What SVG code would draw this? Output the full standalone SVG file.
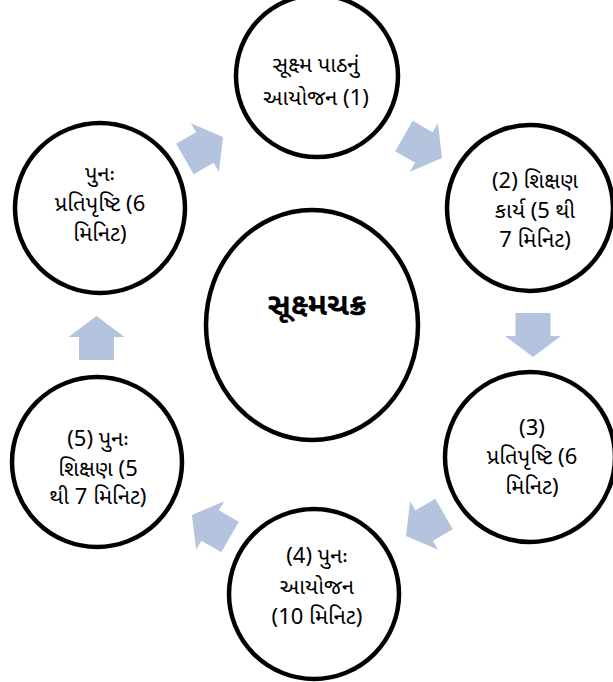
<svg xmlns="http://www.w3.org/2000/svg" width="613" height="682" viewBox="0 0 613 682">
<defs>
<style>
.c{fill:#fff;stroke:#000;stroke-width:4.5}
.a{fill:#b4c4de}
.t{font-family:"Noto Sans Gujarati","Noto Sans","Liberation Sans",sans-serif;font-size:22px;fill:#000;text-anchor:middle}
.b{font-size:31px;font-weight:bold}
</style>
<path id="arr" d="M-22,-17.5 H1 V-28 L22,0 L1,28 V17.5 H-22 Z"/>
</defs>
<rect width="613" height="682" fill="#fff"/>
<g id="connectors">
<use href="#arr" class="a" transform="translate(204,148) rotate(-30)"/>
<use href="#arr" class="a" transform="translate(423,147) rotate(30)"/>
<use href="#arr" class="a" transform="translate(533,335) rotate(90)"/>
<use href="#arr" class="a" transform="translate(425,525) rotate(150)"/>
<use href="#arr" class="a" transform="translate(211,526) rotate(210)"/>
<use href="#arr" class="a" transform="translate(96.5,338) rotate(-90)"/>
</g>
<g id="center">
<ellipse class="c" cx="312" cy="325" rx="106" ry="115"/>
<text class="t b" x="317" y="315">સૂક્ષ્મચક્ર</text>
</g>
<g id="n1">
<circle class="c" cx="317" cy="76" r="81"/>
<text class="t" x="316" y="72">સૂક્ષ્મ પાઠનું</text>
<text class="t" x="316" y="105">આયોજન (1)</text>
</g>
<g id="n2">
<circle class="c" cx="530" cy="208" r="83"/>
<text class="t" x="535" y="188">(2) શિક્ષણ</text>
<text class="t" x="535" y="218">કાર્ય (5 થી</text>
<text class="t" x="535" y="247">7 મિનિટ)</text>
</g>
<g id="n3">
<circle class="c" cx="530" cy="457" r="85"/>
<text class="t" x="532" y="435">(3)</text>
<text class="t" x="532" y="464">પ્રતિપૃષ્ટિ (6</text>
<text class="t" x="532" y="494">મિનિટ)</text>
</g>
<g id="n4">
<circle class="c" cx="314" cy="594" r="85"/>
<text class="t" x="317" y="563">(4) પુનઃ</text>
<text class="t" x="317" y="594">આયોજન</text>
<text class="t" x="317" y="624">(10 મિનિટ)</text>
</g>
<g id="n5">
<circle class="c" cx="97" cy="462" r="85"/>
<text class="t" x="98" y="446">(5) પુનઃ</text>
<text class="t" x="98" y="476">શિક્ષણ (5</text>
<text class="t" x="98" y="504">થી 7 મિનિટ)</text>
</g>
<g id="n6">
<circle class="c" cx="100" cy="208" r="85"/>
<text class="t" x="100" y="181">પુનઃ</text>
<text class="t" x="100" y="211">પ્રતિપૃષ્ટિ (6</text>
<text class="t" x="100" y="241">મિનિટ)</text>
</g>
</svg>
